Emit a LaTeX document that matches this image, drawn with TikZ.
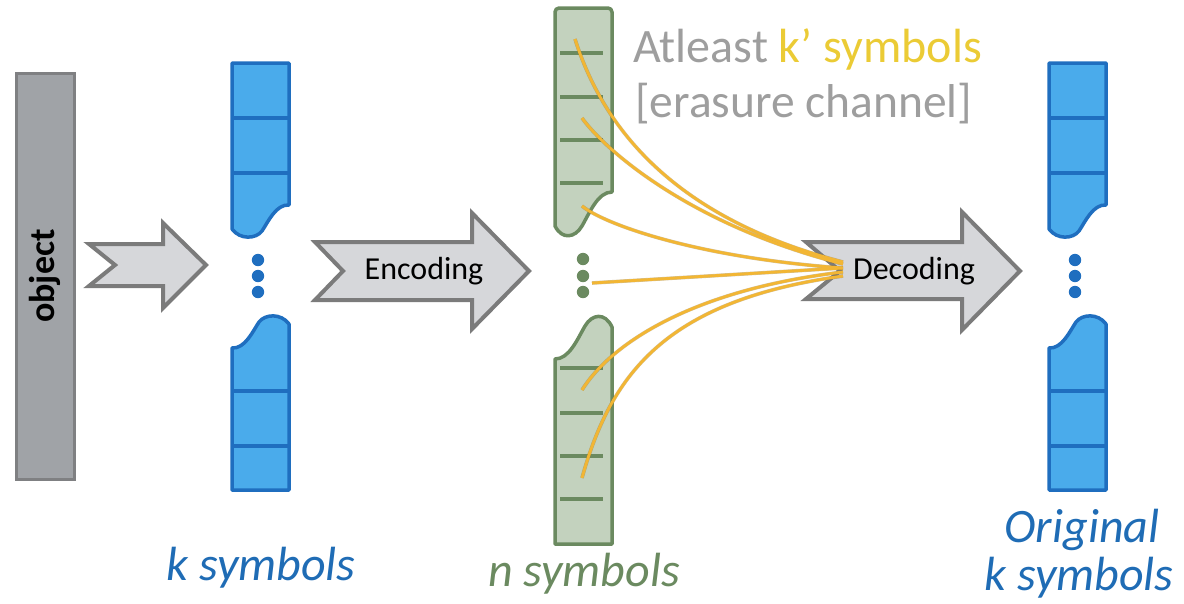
\documentclass[tikz,border=0pt]{standalone}
\usepackage{fontspec}
\setmainfont{Carlito}
\definecolor{objFill}{HTML}{A0A3A7}
\definecolor{objLine}{HTML}{7F8082}
\definecolor{blueFill}{HTML}{4AABEB}
\definecolor{blueLine}{HTML}{1F6EBF}
\definecolor{blueText}{HTML}{1F6CB5}
\definecolor{greenFill}{HTML}{C3D2BE}
\definecolor{greenLine}{HTML}{6B8A60}
\definecolor{arrowFill}{HTML}{D6D7DA}
\definecolor{arrowLine}{HTML}{7B7B7B}
\definecolor{gold}{HTML}{F2B634}
\definecolor{goldShade}{HTML}{9A7420}
\definecolor{titleGray}{HTML}{9E9E9E}
\definecolor{titleYellow}{HTML}{EBCB35}
\begin{document}
\begin{tikzpicture}[x=1pt,y=-1pt,
  bluecol/.style={fill=blueFill,draw=blueLine,line width=3.5pt,line join=round},
  bluediv/.style={draw=blueLine,line width=3.5pt},
  greencol/.style={fill=greenFill,draw=greenLine,line width=3.5pt,line join=round},
  greendiv/.style={draw=greenLine,line width=4pt},
  bigarrow/.style={fill=arrowFill,draw=arrowLine,line width=4pt,line join=miter},
  link/.style={draw=gold,line width=2.8pt},
  linkshade/.style={draw=goldShade,line width=3.6pt,opacity=0.45},
  caption/.style={font=\fontsize{48}{57}\selectfont\itshape,inner sep=0pt,anchor=base},
  arrowtext/.style={font=\fontsize{32}{38}\selectfont,inner sep=0pt,text=black}
]
\useasboundingbox (0,0) rectangle (1184,603);

% the object
\node[draw=objLine,fill=objFill,line width=3pt,minimum width=58pt,minimum height=406pt,inner sep=0pt] (obj) at (45,276) {};
\node[rotate=90,font=\fontsize{36}{43}\selectfont\bfseries,inner sep=0pt] (objtxt) at (obj.center) {object};

% split into symbols
\path[bigarrow] (89,244) -- (163,244) -- (163,223) -- (206,265) -- (163,308) -- (163,286) -- (89,286) -- (115,265) -- cycle;

% blue symbol columns: the k source symbols and the recovered ones
\foreach \dx in {0,817}{
  \begin{scope}[shift={(\dx,0)}]
    \path[bluecol] (232,63) -- (289,63) -- (289,205)
      .. controls (276,204) and (268,222) .. (262,231)
      .. controls (256,239) and (240,240) .. (232,229) -- cycle;
    \draw[bluediv] (232,118) -- (289,118) (232,173) -- (289,173);
    \path[bluecol] (232,490) -- (232,348)
      .. controls (245,349) and (253,331) .. (259,322)
      .. controls (265,314) and (281,313) .. (289,324) -- (289,490) -- cycle;
    \draw[bluediv] (232,391) -- (289,391) (232,446) -- (289,446);
    \fill[blueLine] (258,260) circle (6.2) (258,276) circle (6.2) (258,292) circle (6.2);
  \end{scope}
}

% encoding arrow
\path[bigarrow] (315,242) -- (472,242) -- (472,213) -- (529,271) -- (472,329) -- (472,300) -- (315,300) -- (343,271) -- cycle;
\node[arrowtext] (enc) at (424,271) {Encoding};

% green column of n coded symbols
\path[greencol] (555,100) [rounded corners=4pt] -- (555,8) -- (612,8) [sharp corners] -- (612,192)
  .. controls (598,192) and (590,212) .. (582,226)
  .. controls (575,238) and (562,240) .. (555,226) -- cycle;
\draw[greendiv] (560,53) -- (603,53) (560,97) -- (603,97) (560,140) -- (603,140) (560,183) -- (603,183);
\path[greencol] (555,544) -- (555,359)
  .. controls (569,359) and (577,340) .. (585,326)
  .. controls (592,314) and (605,312) .. (612,327) -- (612,544) -- cycle;
\draw[greendiv] (560,368) -- (603,368) (560,413) -- (603,413) (560,456) -- (603,456) (560,499) -- (603,499);
\fill[greenLine] (583,259) circle (6.2) (583,276) circle (6.2) (583,292) circle (6.2);

% decoding arrow
\path[bigarrow] (806,242) -- (962,242) -- (962,212) -- (1020,271) -- (962,330) -- (962,299) -- (806,299) -- (840,271) -- cycle;
\node[arrowtext] (dec) at (914,271) {Decoding};

% symbols that survive the erasure channel
\coordinate (s1) at (575,39);
\coordinate (s2) at (582,118);
\coordinate (s3) at (582,206);
\coordinate (s4) at (592,283);
\coordinate (s5) at (582,390);
\coordinate (s6) at (582,478);
\coordinate (h1) at (843,262);
\coordinate (h2) at (843,264);
\coordinate (h3) at (843,268);
\coordinate (h4) at (843,268);
\coordinate (h5) at (843,272);
\coordinate (h6) at (843,276);
\foreach \st in {linkshade,link}{
  \draw[\st] (s1) .. controls (610,150) and (700,225) .. (h1);
  \draw[\st] (s2) .. controls (605,150) and (690,225) .. (h2);
  \draw[\st] (s3) .. controls (605,225) and (700,258) .. (h3);
  \draw[\st] (s4) -- (h4);
  \draw[\st] (s5) .. controls (610,345) and (690,290) .. (h5);
  \draw[\st] (s6) .. controls (612,370) and (670,300) .. (h6);
}

% channel note
\node[anchor=base west,inner sep=0pt,font=\fontsize{48}{57}\selectfont,text=titleGray] (note1) at (633,62) {Atleast \textcolor{titleYellow}{k’ symbols}};
\node[anchor=base west,inner sep=0pt,font=\fontsize{47.5}{57}\selectfont,text=titleGray] (note2) at (635,117) {[erasure channel]};

% captions
\node[caption,text=blueText] (kcap) at (261,580) {k symbols};
\node[caption,text=greenLine] (ncap) at (584,586) {n symbols};
\node[caption,text=blueText] (ocap1) at (1082,542) {Original};
\node[caption,text=blueText] (ocap2) at (1079,590) {k symbols};
\end{tikzpicture}
\end{document}
